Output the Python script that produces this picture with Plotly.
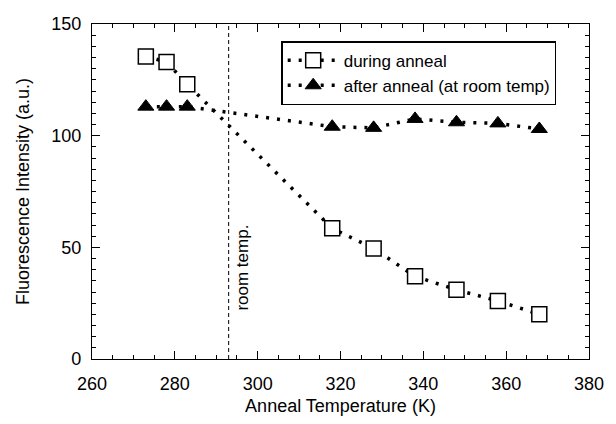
import plotly.graph_objects as go

# ---- data ----
temp_K = [273, 278, 283, 318, 328, 338, 348, 358, 368]
during_anneal = [135.5, 133, 123, 58.5, 49.5, 37, 31, 26, 20]
after_anneal = [113, 113, 113, 104, 103.5, 107.5, 106, 105.5, 103]
ROOM_TEMP = 293
series_names = ["during anneal", "after anneal (at room temp)"]

FONT = "Liberation Sans, Arial, sans-serif"

# plot-area geometry in pixels (used only to place the legend shadow)
W, H = 616, 424
ML, MR, MT, MB = 92, 17, 24, 48
PW, PH = W - ML - MR, H - MT - MB


def px_x(p):
    return (p - ML) / PW


def px_y(p):
    return (H - MB - p) / PH


fig = go.Figure()
fig.add_trace(go.Scatter(
    x=temp_K, y=during_anneal, name=series_names[0],
    mode="lines+markers",
    line=dict(color="black", width=3.5, dash="3px,8px"),
    marker=dict(symbol="square", size=15, color="white",
                line=dict(color="black", width=1.5)),
))
fig.add_trace(go.Scatter(
    x=temp_K, y=after_anneal, name=series_names[1],
    mode="lines+markers",
    line=dict(color="black", width=3.5, dash="3px,8px"),
    marker=dict(symbol="triangle-up", size=14, color="black",
                line=dict(color="black", width=1)),
))

# room-temperature marker line
fig.add_shape(type="line", xref="x", yref="y", x0=ROOM_TEMP, x1=ROOM_TEMP,
              y0=0, y1=150, line=dict(color="black", width=1, dash="4px,3px"))
fig.add_annotation(x=ROOM_TEMP, y=41, xref="x", yref="y", text="room temp.",
                   textangle=-90, showarrow=False, xanchor="left", xshift=2,
                   font=dict(family=FONT, size=17, color="black"))

# legend box geometry (px)
LEG_L, LEG_T, LEG_W, LEG_H, SH = 285, 42, 273, 58, 4
fig.add_shape(type="rect", xref="paper", yref="paper",
              x0=px_x(LEG_L + SH), x1=px_x(LEG_L + LEG_W + SH),
              y0=px_y(LEG_T + LEG_H + SH), y1=px_y(LEG_T + SH),
              fillcolor="black", line=dict(width=0), layer="above")

axis_common = dict(
    showline=True, linecolor="black", linewidth=1.2, mirror="ticks",
    ticks="inside", ticklen=8, tickwidth=1.2, tickcolor="black",
    showgrid=False, zeroline=False,
    tickfont=dict(family=FONT, size=18, color="black"),
)

fig.update_xaxes(
    range=[260, 380], dtick=20, tick0=260,
    minor=dict(ticks="inside", ticklen=4, dtick=5, tickcolor="black", tickwidth=1),
    title=dict(text="Anneal Temperature (K)", font=dict(family=FONT, size=18, color="black"),
               standoff=6),
    ticklabelstandoff=8,
    **axis_common,
)
fig.update_yaxes(
    range=[0, 150], dtick=50, tick0=0,
    minor=dict(ticks="inside", ticklen=4, dtick=5, tickcolor="black", tickwidth=1),
    title=dict(text="Fluorescence Intensity (a.u.)", font=dict(family=FONT, size=18, color="black"),
               standoff=16),
    ticklabelstandoff=6,
    **axis_common,
)

fig.update_layout(
    width=W, height=H,
    margin=dict(l=ML, r=MR, t=MT, b=MB),
    paper_bgcolor="white", plot_bgcolor="white",
    showlegend=True,
    legend=dict(x=px_x(LEG_L), y=px_y(LEG_T), xanchor="left", yanchor="top",
                bgcolor="white", bordercolor="black", borderwidth=1.5,
                font=dict(family=FONT, size=17, color="black"),
                tracegroupgap=0, itemwidth=51),
)

fig.write_html("out.html")
